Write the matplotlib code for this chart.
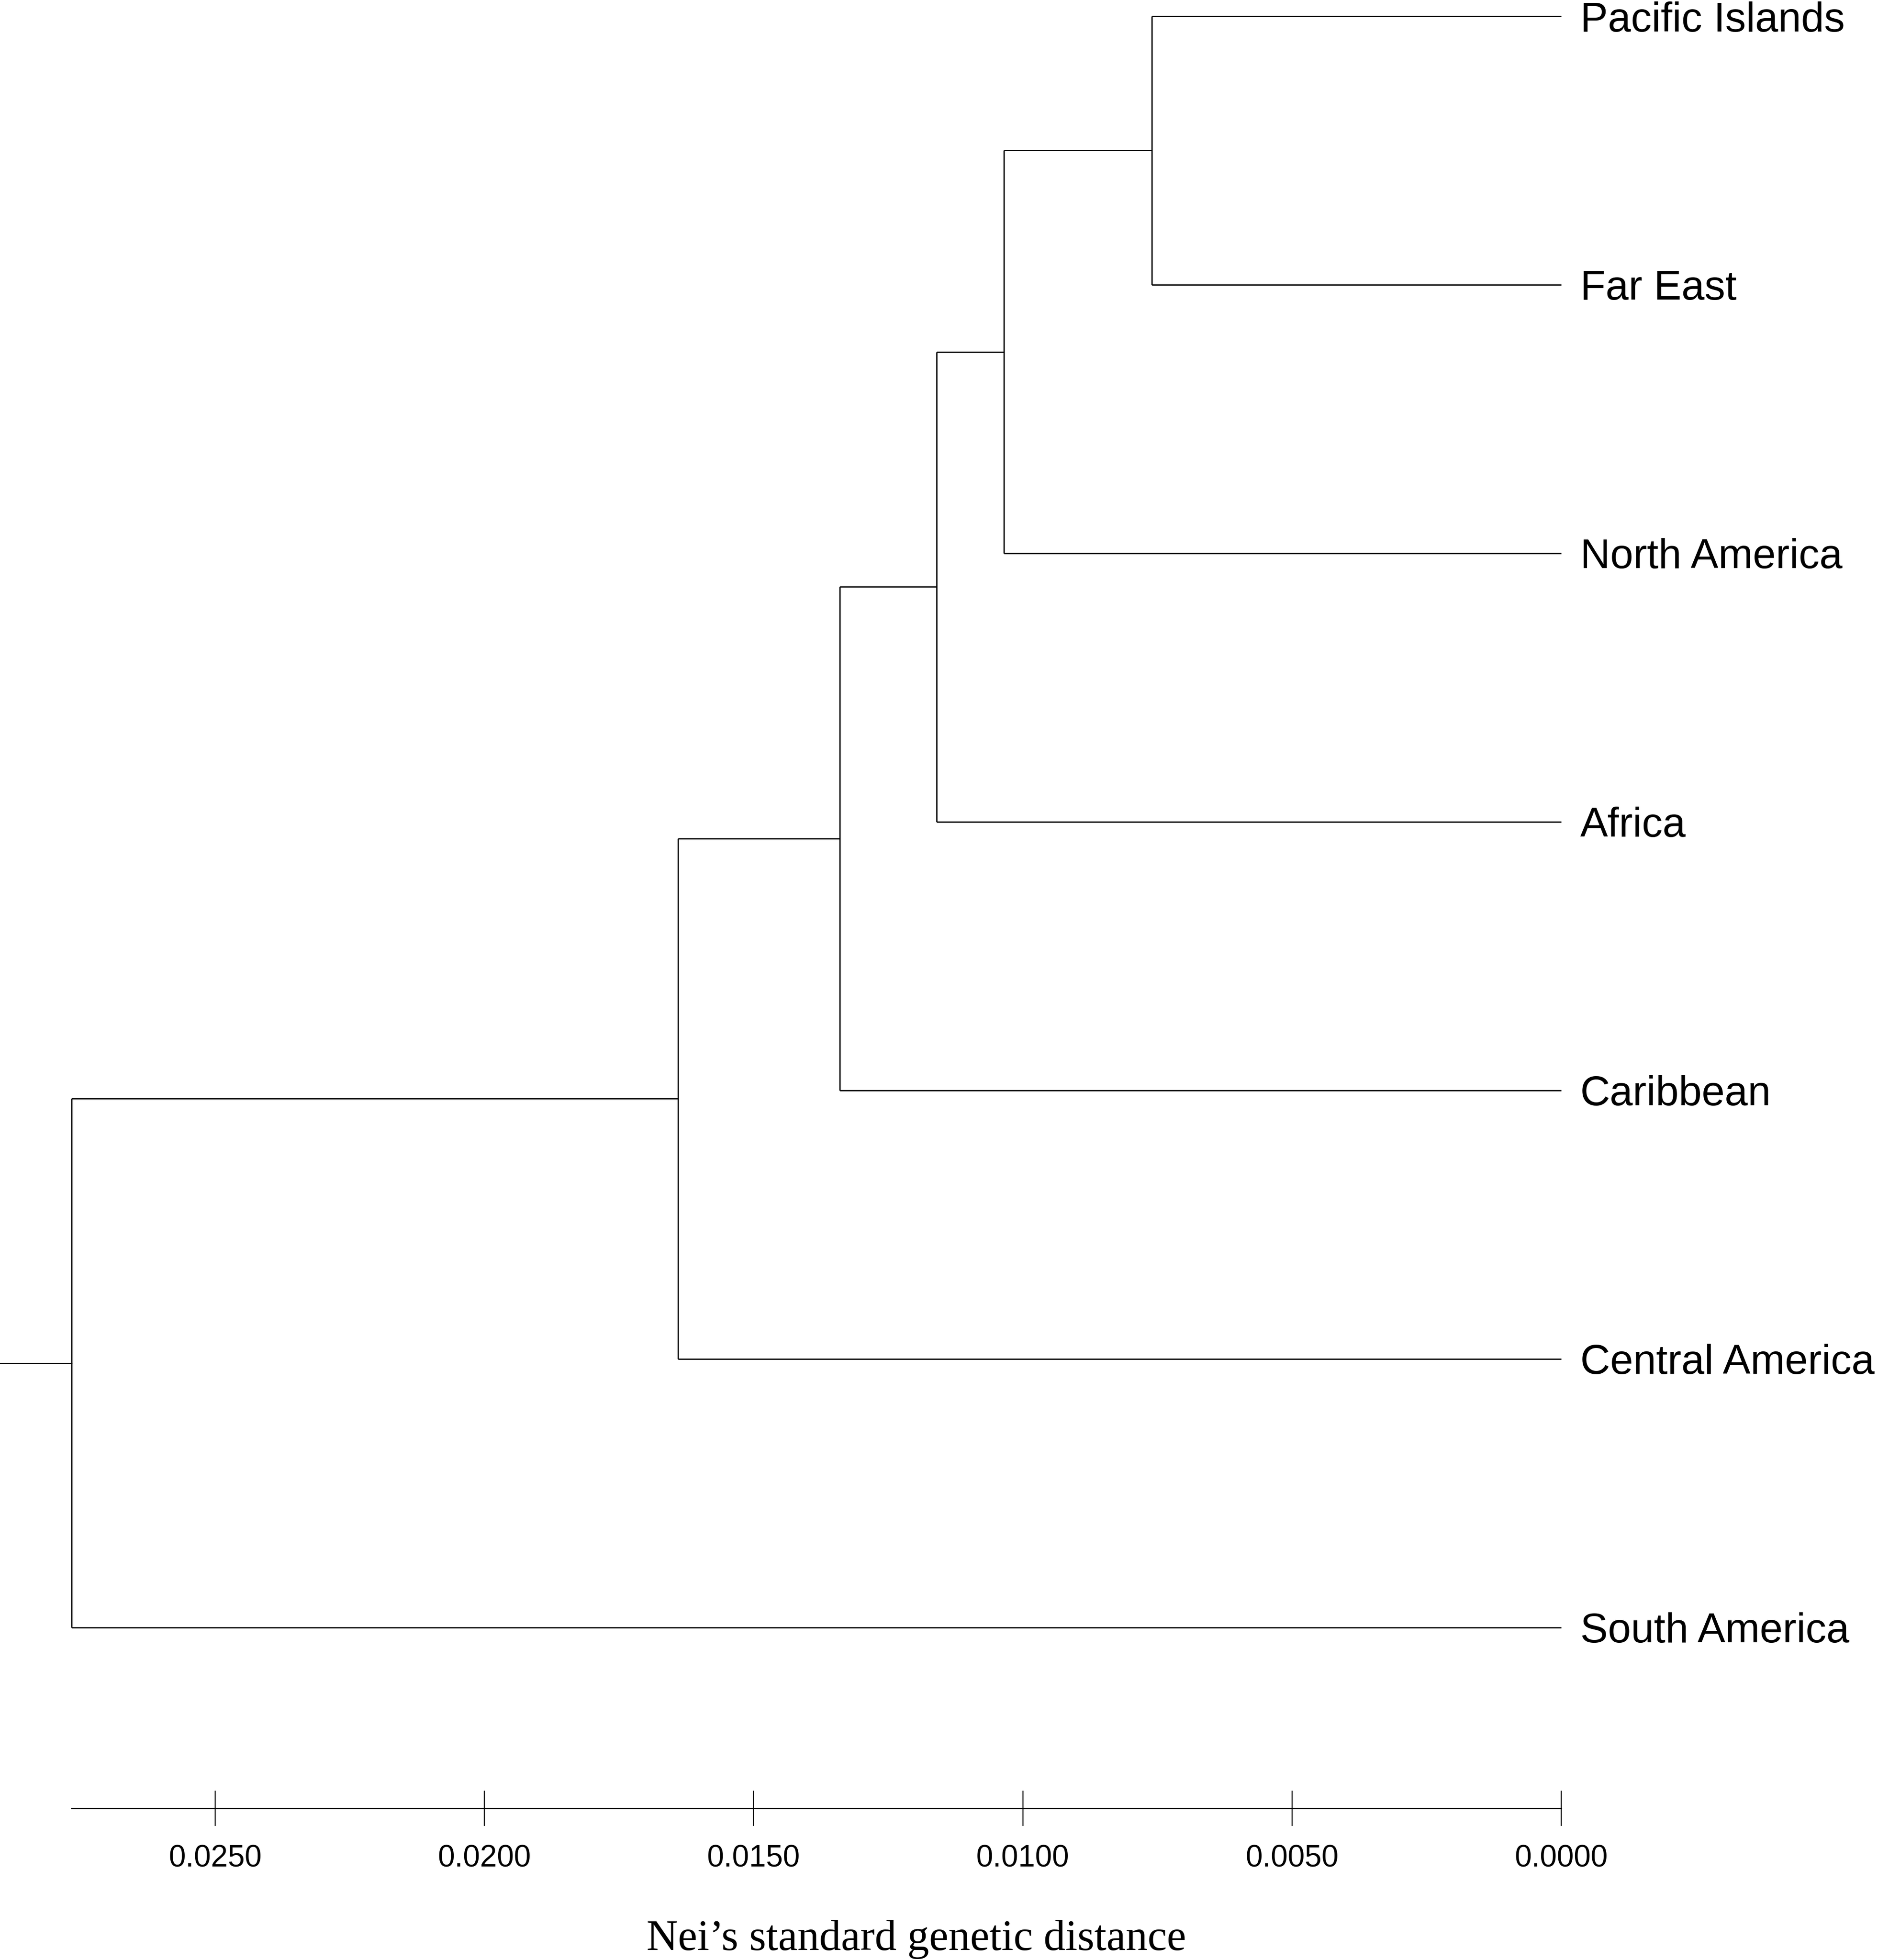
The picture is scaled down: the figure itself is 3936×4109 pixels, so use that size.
import matplotlib
matplotlib.use("Agg")
import matplotlib.pyplot as plt

# populations top to bottom, and the height where each one joins the cluster above it
populations = ["Pacific Islands", "Far East", "North America", "Africa",
               "Caribbean", "Central America", "South America"]
join_heights = [0.0076, 0.01035, 0.0116, 0.0134, 0.0164, 0.02767]

tick_values = [0.0250, 0.0200, 0.0150, 0.0100, 0.0050, 0.0000]
tick_labels = ["0.0250", "0.0200", "0.0150", "0.0100", "0.0050", "0.0000"]
axis_title = "Nei\u2019s standard genetic distance"

lw = 1.9
fig = plt.figure(figsize=(39.37, 41.09), dpi=100)
fig.patch.set_facecolor("white")
ax = fig.add_axes([0.0, 0.07747, 1.0, 0.92253])

# ladder-shaped UPGMA tree: each node joins the previous cluster with the next leaf
prev_y, prev_h = 0, 0.0
for k, h in enumerate(join_heights):
    leaf_y = k + 1
    ax.plot([prev_h, h], [prev_y, prev_y], color="black", lw=lw, solid_capstyle="butt")
    ax.plot([0, h], [leaf_y, leaf_y], color="black", lw=lw, solid_capstyle="butt")
    ax.plot([h, h], [prev_y, leaf_y], color="black", lw=lw, solid_capstyle="butt")
    prev_y, prev_h = (prev_y + leaf_y) / 2.0, h

# root stub running off the left edge
ax.plot([prev_h, prev_h + 0.003], [prev_y, prev_y], color="black", lw=lw)

for i, name in enumerate(populations):
    ax.annotate(name, (0, i), xytext=(28.8, 0), textcoords="offset points",
                va="center_baseline", ha="left", fontsize=62.5,
                family="Liberation Sans", annotation_clip=False)

ax.set_xlim(0.028996, -0.005893)
ax.set_ylim(6.673, -0.0604)

for s in ["top", "left", "right"]:
    ax.spines[s].set_visible(False)
ax.spines["bottom"].set_bounds(0, join_heights[-1])
ax.spines["bottom"].set_linewidth(2.2)
ax.set_yticks([])
ax.set_xticks(tick_values)
ax.set_xticklabels(tick_labels, family="Liberation Sans", fontsize=46)
ax.tick_params(axis="x", direction="inout", length=52.6, width=1.6, pad=28.4)

ax.set_xlabel(axis_title, family="Liberation Serif", fontsize=65.6, va="baseline")
ax.xaxis.set_label_coords(0.4877, -0.0784)

fig.savefig("out.png", dpi=100, facecolor="white")
